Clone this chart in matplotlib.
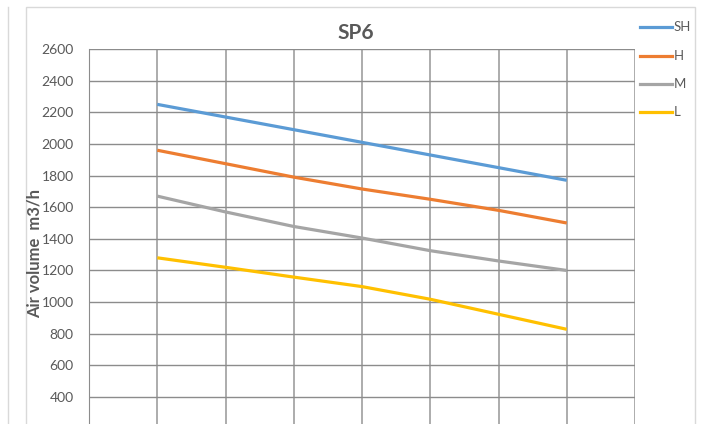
import matplotlib
matplotlib.use("Agg")
import matplotlib.pyplot as plt
from matplotlib.lines import Line2D
from matplotlib.patches import Rectangle

# values (points sit on gridlines 1..7)
positions = [1, 2, 3, 4, 5, 6, 7]
sh_vals = [2250, 2170, 2090, 2010, 1930, 1850, 1770]
h_vals = [1960, 1875, 1790, 1715, 1650, 1580, 1500]
m_vals = [1670, 1570, 1478, 1405, 1325, 1260, 1200]
l_vals = [1280, 1220, 1158, 1098, 1018, 923, 828]
series_names = ["SH", "H", "M", "L"]
y_ticks = [0, 200, 400, 600, 800, 1000, 1200, 1400, 1600, 1800, 2000, 2200, 2400, 2600]

colors = ["#5B9BD5", "#ED7D31", "#A5A5A5", "#FFC000"]
text_gray = "#595959"

plt.rcParams['font.family'] = ['Lato', 'DejaVu Sans']

W, H = 728, 424
fig = plt.figure(figsize=(W / 100, H / 100), dpi=100)
fig.patch.set_facecolor("white")

# chart frame borders (this chart + edge of neighbouring one)
fig.add_artist(Rectangle((26 / W, -0.1), (695 - 26) / W, 1.1 - 7 / H,
                         transform=fig.transFigure, fill=False,
                         edgecolor="#d9d9d9", linewidth=1))
fig.add_artist(Line2D([8 / W, 8 / W], [0, 1 - 7 / H], transform=fig.transFigure,
                      color="#d9d9d9", linewidth=1))

# plot area: top at y=49px (2600), zero below the visible figure
left, right, top = 89, 635, 49
px_per_unit = (397 - 49) / 2200
bottom_px = top + 2600 * px_per_unit
ax = fig.add_axes([left / W, 1 - bottom_px / H, (right - left) / W, (bottom_px - top) / H])

for vals, name, c in zip([sh_vals, h_vals, m_vals, l_vals], series_names, colors):
    ax.plot(positions, vals, color=c, linewidth=2.3, label=name,
            solid_capstyle="butt", zorder=3)

ax.set_xlim(0, 8)
ax.set_ylim(0, 2600)
ax.set_xticks(range(0, 9))
ax.set_xticklabels([])
ax.set_yticks(y_ticks)
# labels below 400 fall off the cropped bottom edge
ax.set_yticklabels([str(v) if v >= 400 else "" for v in y_ticks])
ax.tick_params(axis="y", length=0, labelsize=10, labelcolor=text_gray, pad=11)
ax.tick_params(axis="x", length=0)
ax.grid(True, axis="y", color="#8c8c8c", linewidth=1)
ax.grid(True, axis="x", color="#a6a6a6", linewidth=1.3)
for s in ["top", "right", "bottom"]:
    ax.spines[s].set_visible(False)
ax.spines["left"].set_color("#8c8c8c")
ax.set_axisbelow(True)

fig.text(35 / W, 1 - 254 / H, "Air volume  m3/h", rotation=90, ha="center", va="center",
         fontsize=12, fontweight="bold", color=text_gray)
fig.text(356 / W, 1 - 33 / H, "SP6", ha="center", va="center",
         fontsize=15, fontweight="bold", color=text_gray)

# legend on the right
leg_y = [27, 56, 84, 112]
for name, c, y in zip(series_names, colors, leg_y):
    fig.add_artist(Line2D([640 / W, 672 / W], [1 - y / H, 1 - y / H],
                          transform=fig.transFigure, color=c, linewidth=2.3))
    fig.text(674 / W, 1 - y / H, name, ha="left", va="center", fontsize=9.5, color=text_gray)

fig.savefig("out.png", dpi=100)
